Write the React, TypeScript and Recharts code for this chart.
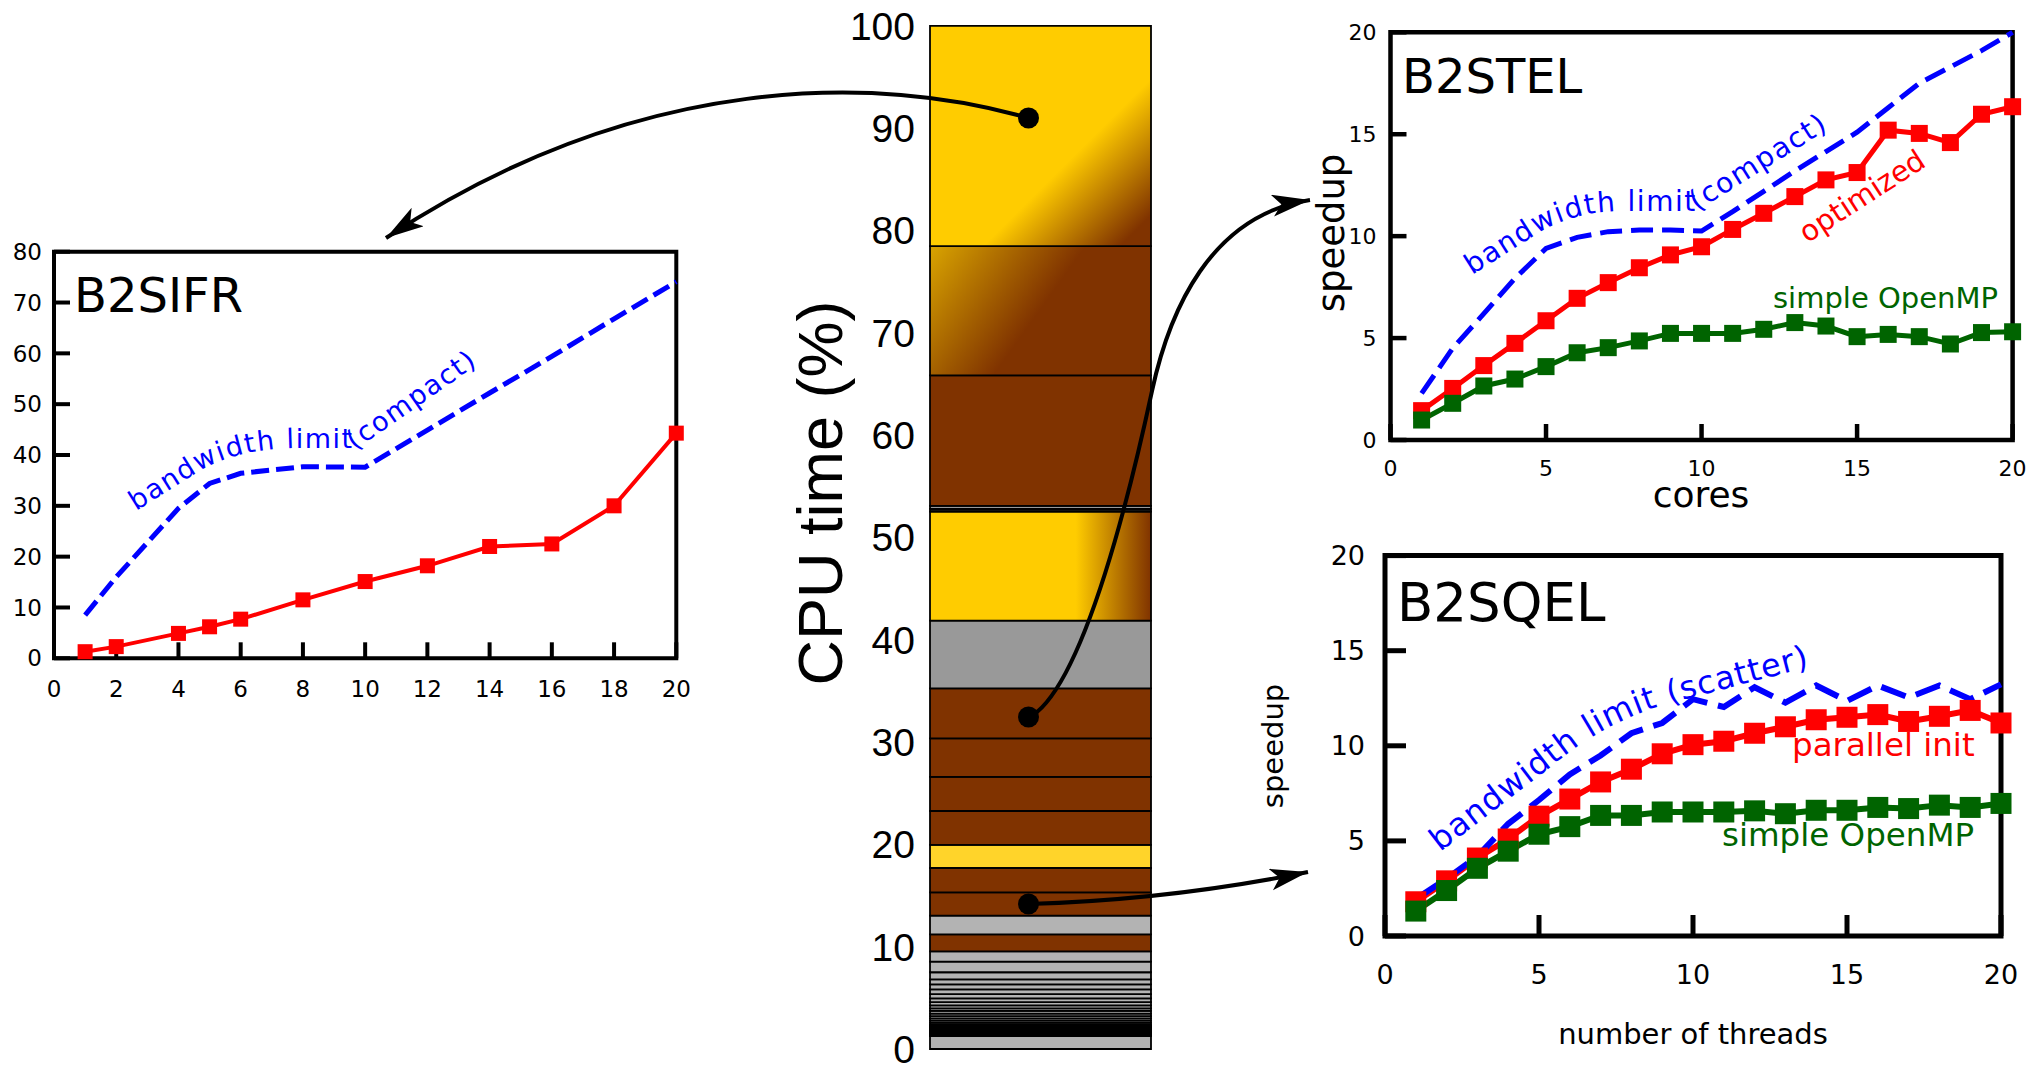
import React from "react";
import { BarChart, Bar, LineChart, Line, XAxis, YAxis, ReferenceArea } from "recharts";

const SANS = "'DejaVu Sans', sans-serif";
const ARIAL = "'Liberation Sans', Arial, sans-serif";
const RED = "#ff0000";
const BLUE = "#0000ff";
const GREEN = "#006400";

// B2SIFR (left)
const sifrCores = [1, 2, 4, 5, 6, 8, 10, 12, 14, 16, 18, 20];
const sifrOptimized = [1.3, 2.3, 4.9, 6.2, 7.7, 11.5, 15.1, 18.2, 22.0, 22.5, 30.0, 44.3];
const sifrBandwidth = [8.5, 16.0, 29.5, 34.4, 36.4, 37.7, 37.6, 44.9, 52.2, 59.4, 66.8, 74.1];
const sifrXTicks = [0, 2, 4, 6, 8, 10, 12, 14, 16, 18, 20];
const sifrYTicks = [0, 10, 20, 30, 40, 50, 60, 70, 80];

// B2STEL (top right)
const stelCores = [1, 2, 3, 4, 5, 6, 7, 8, 9, 10, 11, 12, 13, 14, 15, 16, 17, 18, 19, 20];
const stelOptimized = [1.44, 2.53, 3.65, 4.74, 5.85, 6.95, 7.72, 8.45, 9.08, 9.48, 10.33, 11.12, 11.94, 12.76, 13.12, 15.2, 15.04, 14.59, 15.98, 16.35];
const stelSimple = [0.98, 1.8, 2.65, 2.99, 3.6, 4.28, 4.53, 4.86, 5.23, 5.23, 5.23, 5.43, 5.76, 5.59, 5.07, 5.18, 5.07, 4.71, 5.27, 5.31];
const stelBandwidth = [2.29, 4.5, 6.2, 7.93, 9.4, 9.94, 10.22, 10.3, 10.3, 10.25, 11.2, 12.2, 13.2, 14.15, 15.1, 16.3, 17.5, 18.3, 19.1, 20.0];

// B2SQEL (bottom right)
const sqelThreads = [1, 2, 3, 4, 5, 6, 7, 8, 9, 10, 11, 12, 13, 14, 15, 16, 17, 18, 19, 20];
const sqelParallelInit = [1.8, 2.9, 4.1, 5.1, 6.3, 7.2, 8.1, 8.77, 9.58, 10.06, 10.24, 10.66, 11.0, 11.37, 11.5, 11.64, 11.28, 11.55, 11.86, 11.2];
const sqelSimple = [1.31, 2.39, 3.56, 4.46, 5.35, 5.75, 6.34, 6.34, 6.52, 6.52, 6.52, 6.58, 6.43, 6.61, 6.61, 6.76, 6.7, 6.88, 6.76, 6.97];
const sqelBandwidth = [1.94, 3.02, 4.19, 5.9, 7.15, 8.5, 9.49, 10.66, 11.2, 12.45, 12.04, 13.08, 12.27, 13.17, 12.36, 13.17, 12.54, 13.17, 12.45, 13.23];

const speedupTicks = [0, 5, 10, 15, 20];

// CPU time share of the routines, bottom to top (%)
const cpuShares = [
  1.27,
  0.06, 0.06, 0.06, 0.06, 0.06, 0.06, 0.06, 0.06, 0.07, 0.07, 0.07, 0.07, 0.08, 0.08, 0.08, 0.09,
  0.2, 0.22, 0.22, 0.22, 0.24, 0.26,
  0.26, 0.29, 0.32, 0.36, 0.42, 0.46, 0.49, 0.49, 0.69, 1.03, 1.02,
  1.66, 1.82, 2.28, 2.38, 2.25, 3.32, 3.34, 3.75, 4.9, 6.62, 10.66, 0.25, 0.3, 12.76, 12.62, 21.53,
];
const cpuTicks = [0, 10, 20, 30, 40, 50, 60, 70, 80, 90, 100];

const GRAY = "#b3b3b3";
const BROWN = "#803300";
const cpuFills = [
  ...Array(34).fill(GRAY),
  BROWN, GRAY, BROWN, BROWN, "#ffd42a", BROWN, BROWN, BROWN, BROWN, "#999999",
  "url(#gSide)", "#222222", "#999999", BROWN, "url(#gMid)", "url(#gTop)",
];

const toPoints = (xs: number[], ys: number[]) => xs.map((x, i) => ({ x, y: ys[i] }));

function squareDot(size: number, color: string) {
  return (props: any) => {
    const { cx, cy, index } = props;
    return <rect key={`sq-${index}`} x={cx - size / 2} y={cy - size / 2} width={size} height={size} fill={color} />;
  };
}

type Series = { points: { x: number; y: number }[]; color: string; width: number; dash?: string; marker?: number };

function SpeedupPanel(p: {
  left: number; top: number; width: number; height: number;
  margin: { top: number; right: number; left: number; bottom: number };
  yAxisWidth: number; yMax: number; xTicks: number[]; yTicks: number[];
  tickLen: number; tickFont: number; xTickMargin: number; yTickMargin: number; frame: number;
  series: Series[];
}) {
  const tickStroke = { stroke: "#000", strokeWidth: p.frame };
  const tickStyle = { fill: "#000", fontSize: p.tickFont, fontFamily: SANS };
  const blank = () => "";
  return (
    <div style={{ position: "absolute", left: p.left, top: p.top }}>
      <LineChart width={p.width} height={p.height} margin={p.margin}>
        <XAxis xAxisId="b" type="number" dataKey="x" domain={[0, 20]} ticks={p.xTicks} interval={0}
          axisLine={false} tickLine={tickStroke} tickSize={-p.tickLen} tickMargin={p.xTickMargin} tick={tickStyle} height={40} />
        <XAxis xAxisId="t" orientation="top" type="number" dataKey="x" domain={[0, 20]} ticks={p.xTicks} interval={0}
          axisLine={false} tickLine={tickStroke} tickSize={-p.tickLen} tickFormatter={blank} height={0} />
        <YAxis yAxisId="l" type="number" domain={[0, p.yMax]} ticks={p.yTicks} interval={0}
          axisLine={false} tickLine={tickStroke} tickSize={-p.tickLen} tickMargin={p.yTickMargin} tick={tickStyle} width={p.yAxisWidth} />
        <YAxis yAxisId="r" orientation="right" type="number" domain={[0, p.yMax]} ticks={p.yTicks} interval={0}
          axisLine={false} tickLine={tickStroke} tickSize={-p.tickLen} tickFormatter={blank} width={0} />
        <ReferenceArea xAxisId="b" yAxisId="l" x1={0} x2={20} y1={0} y2={p.yMax}
          fill="none" fillOpacity={0} stroke="#000" strokeWidth={p.frame} />
        {p.series.map((s, i) => (
          <Line key={i} xAxisId="b" yAxisId="l" data={s.points} dataKey="y" type="linear"
            stroke={s.color} strokeWidth={s.width} strokeDasharray={s.dash}
            dot={s.marker ? squareDot(s.marker, s.color) : false} activeDot={false} isAnimationActive={false} />
        ))}
      </LineChart>
    </div>
  );
}

function CpuBar() {
  const row: Record<string, number | string> = { name: "CPU" };
  cpuShares.forEach((v, i) => { row[`s${i}`] = v; });
  return (
    <div style={{ position: "absolute", left: 800, top: 0 }}>
      <BarChart width={360} height={1066} data={[row]} margin={{ top: 25.8, right: 9, left: 0, bottom: 17 }}
        barCategoryGap="0%" barGap={0}>
        <defs>
          <linearGradient id="gTop" x1="0" y1="0" x2="1" y2="1">
            <stop offset="0" stopColor="#ffcc00" />
            <stop offset="0.62" stopColor="#ffcc00" />
            <stop offset="0.93" stopColor="#803300" />
            <stop offset="1" stopColor="#803300" />
          </linearGradient>
          <linearGradient id="gMid" x1="0" y1="0" x2="0.6" y2="0.25">
            <stop offset="0" stopColor="#d9a400" />
            <stop offset="1" stopColor="#803300" />
          </linearGradient>
          <linearGradient id="gSide" x1="0" y1="0" x2="1" y2="0">
            <stop offset="0.66" stopColor="#ffcc00" />
            <stop offset="1" stopColor="#803300" />
          </linearGradient>
        </defs>
        <XAxis dataKey="name" hide />
        <YAxis type="number" domain={[0, 100]} ticks={cpuTicks} interval={0} axisLine={false} tickLine={false}
          tickSize={0} tickMargin={15} width={130} tick={{ fill: "#000", fontSize: 39, fontFamily: ARIAL }} />
        {cpuShares.map((_, i) => (
          <Bar key={i} dataKey={`s${i}`} stackId="cpu" fill={cpuFills[i]} stroke="#000" strokeWidth={1.8}
            isAnimationActive={false} />
        ))}
      </BarChart>
    </div>
  );
}

export default function App() {
  return (
    <div style={{ position: "absolute", left: 0, top: 0, width: 2028, height: 1066, background: "#fff", overflow: "hidden" }}>
      <SpeedupPanel left={0} top={230} width={700} height={480}
        margin={{ top: 21.7, right: 23.7, left: 0, bottom: 11.7 }} yAxisWidth={54} yMax={80}
        xTicks={sifrXTicks} yTicks={sifrYTicks} tickLen={16} tickFont={23} xTickMargin={38} yTickMargin={28} frame={4}
        series={[
          { points: toPoints(sifrCores, sifrBandwidth), color: BLUE, width: 5, dash: "18 7" },
          { points: toPoints(sifrCores, sifrOptimized), color: RED, width: 4, marker: 15 },
        ]} />
      <SpeedupPanel left={1300} top={0} width={728} height={540}
        margin={{ top: 32.3, right: 15.4, left: 0, bottom: 60 }} yAxisWidth={90.5} yMax={20}
        xTicks={speedupTicks} yTicks={speedupTicks} tickLen={16} tickFont={22} xTickMargin={36} yTickMargin={30} frame={4.5}
        series={[
          { points: toPoints(stelCores, stelBandwidth), color: BLUE, width: 5, dash: "22 9" },
          { points: toPoints(stelCores, stelOptimized), color: RED, width: 5, marker: 17 },
          { points: toPoints(stelCores, stelSimple), color: GREEN, width: 5, marker: 17 },
        ]} />
      <SpeedupPanel left={1300} top={530} width={728} height={536}
        margin={{ top: 25.6, right: 27, left: 0, bottom: 90 }} yAxisWidth={85} yMax={20}
        xTicks={speedupTicks} yTicks={speedupTicks} tickLen={21} tickFont={27} xTickMargin={50} yTickMargin={41} frame={5}
        series={[
          { points: toPoints(sqelThreads, sqelParallelInit), color: RED, width: 6, marker: 21 },
          { points: toPoints(sqelThreads, sqelSimple), color: GREEN, width: 6, marker: 21 },
          { points: toPoints(sqelThreads, sqelBandwidth), color: BLUE, width: 6, dash: "26 11" },
        ]} />
      <CpuBar />

      <svg width={2028} height={1066} style={{ position: "absolute", left: 0, top: 0, pointerEvents: "none" }}>
        <defs>
          <marker id="arrowHead" markerUnits="userSpaceOnUse" viewBox="0 0 40 24" markerWidth={40} markerHeight={24}
            refX={38} refY={11} orient="auto">
            <path d="M0,0 L38,11 L0,22 L9,11 Z" fill="#000" />
          </marker>
          <path id="bwLeft" d="M136,511 L198,472 C222,457 255,449 293,448 L358,448 L484,360" />
          <path id="bwTop" d="M1472,275 L1540,232 C1565,218 1590,211 1625,211 L1697,211 L1830,128" />
          <path id="bwBottom" d="M1440,852 L1570,752 Q1610,722 1660,706 L1812,666" />
        </defs>

        {/* arrows from the CPU bar to the panels */}
        <path d="M1028,118 C880,75 640,70 386,238" fill="none" stroke="#000" strokeWidth={4} markerEnd="url(#arrowHead)" />
        <path d="M1028,718 C1085,690 1135,470 1152,391 S1210,215 1310,200" fill="none" stroke="#000" strokeWidth={4} markerEnd="url(#arrowHead)" />
        <path d="M1028,904 Q1170,900 1308,872" fill="none" stroke="#000" strokeWidth={4} markerEnd="url(#arrowHead)" />
        <circle cx={1028.5} cy={118} r={10.5} fill="#000" />
        <circle cx={1028.5} cy={717} r={10.5} fill="#000" />
        <circle cx={1028.5} cy={904} r={10.5} fill="#000" />

        <text x={842} y={493} transform="rotate(-90 842 493)" textAnchor="middle" fontFamily={ARIAL} fontSize={63}>CPU time (%)</text>

        {/* titles */}
        <text x={74} y={312} fontFamily={SANS} fontSize={48}>B2SIFR</text>
        <text x={1402} y={93} fontFamily={SANS} fontSize={48}>B2STEL</text>
        <text x={1397} y={621} fontFamily={SANS} fontSize={53}>B2SQEL</text>

        {/* axis titles */}
        <text x={1701} y={507} textAnchor="middle" fontFamily={SANS} fontSize={36}>cores</text>
        <text x={1344} y={233} transform="rotate(-90 1344 233)" textAnchor="middle" fontFamily={SANS} fontSize={37}>speedup</text>
        <text x={1283} y={746} transform="rotate(-90 1283 746)" textAnchor="middle" fontFamily={SANS} fontSize={29}>speedup</text>
        <text x={1693} y={1044} textAnchor="middle" fontFamily={SANS} fontSize={29}>number of threads</text>

        {/* series annotations */}
        <text fontFamily={SANS} fontSize={27} letterSpacing={1.5} fill={BLUE}><textPath href="#bwLeft">bandwidth limit(compact)</textPath></text>
        <text fontFamily={SANS} fontSize={28} letterSpacing={1.5} fill={BLUE}><textPath href="#bwTop">bandwidth limit(compact)</textPath></text>
        <text fontFamily={SANS} fontSize={32} letterSpacing={1} fill={BLUE}><textPath href="#bwBottom">bandwidth limit (scatter)</textPath></text>
        <text x={1862} y={196} transform="rotate(-33 1862 196)" textAnchor="middle" dominantBaseline="central" fontFamily={SANS} fontSize={29} fill={RED}>optimized</text>
        <text x={1773} y={308} fontFamily={SANS} fontSize={29} fill={GREEN}>simple OpenMP</text>
        <text x={1792} y={756} fontFamily={SANS} fontSize={32.5} fill={RED}>parallel init</text>
        <text x={1722} y={846} fontFamily={SANS} fontSize={32.5} fill={GREEN}>simple OpenMP</text>
      </svg>
    </div>
  );
}
